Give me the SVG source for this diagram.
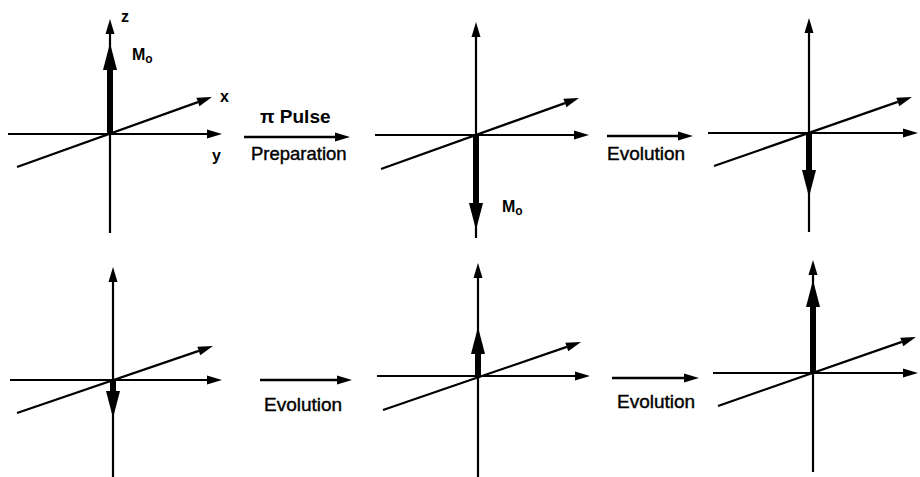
<svg xmlns="http://www.w3.org/2000/svg" width="920" height="477" viewBox="0 0 920 477">
<style>
.ax{stroke:#000;stroke-width:2.2;fill:none;marker-end:url(#ah)}
.mv{stroke:#000;stroke-width:6;fill:none;marker-end:url(#th)}
.cn{stroke:#000;stroke-width:2.4;fill:none;marker-end:url(#ah)}
.lb{font-family:"Liberation Sans",Arial,sans-serif;font-weight:bold;font-size:16px;fill:#000}
.tx{font-family:"Liberation Sans",Arial,sans-serif;font-size:18.5px;fill:#000;stroke:#000;stroke-width:0.4}
.sb{font-size:12px}
</style>
<defs>
<marker id="ah" markerUnits="userSpaceOnUse" markerWidth="16" markerHeight="10" refX="0" refY="4.5" orient="auto" overflow="visible"><path d="M0,0 L15,4.5 L0,9 Z" fill="#000"/></marker>
<marker id="th" markerUnits="userSpaceOnUse" markerWidth="28" markerHeight="15" refX="0" refY="7" orient="auto" overflow="visible"><path d="M0,0 L27,7 L0,14 Z" fill="#000"/></marker>
</defs>
<rect width="920" height="477" fill="#fff"/>
<g id="panel1">
<line class="ax" x1="110" y1="233" x2="110" y2="34"/>
<line class="ax" x1="8" y1="134" x2="207" y2="134"/>
<line class="ax" x1="17" y1="167" x2="197.9" y2="102.1"/>
<line class="mv" x1="110" y1="134" x2="110" y2="70"/>
<text class="lb" x="121" y="22">z</text>
<text class="lb" x="132" y="60">M<tspan class="sb" dy="3">o</tspan></text>
<text class="lb" x="220" y="102">x</text>
<text class="lb" x="212" y="161">y</text>
</g>
<g id="panel2">
<line class="ax" x1="476" y1="238" x2="476" y2="37"/>
<line class="ax" x1="375" y1="135" x2="574" y2="135"/>
<line class="ax" x1="381" y1="169" x2="564.9" y2="103.1"/>
<line class="mv" x1="476" y1="135" x2="476" y2="203"/>
<text class="lb" x="502" y="212">M<tspan class="sb" dy="3">o</tspan></text>
</g>
<g id="panel3">
<line class="ax" x1="809" y1="232" x2="809" y2="33"/>
<line class="ax" x1="708" y1="133" x2="903" y2="133"/>
<line class="ax" x1="714" y1="166" x2="897.8" y2="101.9"/>
<line class="mv" x1="809" y1="133" x2="809" y2="170"/>
</g>
<g id="panel4">
<line class="ax" x1="113" y1="477" x2="113" y2="282"/>
<line class="ax" x1="10" y1="380" x2="207" y2="380"/>
<line class="ax" x1="17" y1="413" x2="198.8" y2="350.9"/>
<line class="mv" x1="113" y1="380" x2="113" y2="391"/>
</g>
<g id="panel5">
<line class="ax" x1="478" y1="477" x2="478" y2="278"/>
<line class="ax" x1="377" y1="376" x2="575" y2="376"/>
<line class="ax" x1="383" y1="410" x2="566.8" y2="346.9"/>
<line class="mv" x1="478" y1="376" x2="478" y2="354"/>
</g>
<g id="panel6">
<line class="ax" x1="813" y1="472" x2="813" y2="275"/>
<line class="ax" x1="713" y1="373" x2="903" y2="373"/>
<line class="ax" x1="718" y1="406" x2="901.8" y2="341.9"/>
<line class="mv" x1="813" y1="373" x2="813" y2="307"/>
</g>
<g id="connectors">
<line class="cn" x1="244" y1="137" x2="335" y2="137"/>
<text class="lb" x="260" y="123" style="font-size:19px">π Pulse</text>
<text class="tx" x="251" y="160">Preparation</text>
<line class="cn" x1="607" y1="136" x2="678" y2="136"/>
<text class="tx" x="607" y="160" style="font-size:19px">Evolution</text>
<line class="cn" x1="260" y1="380" x2="337" y2="380"/>
<text class="tx" x="264" y="411" style="font-size:19px">Evolution</text>
<line class="cn" x1="612" y1="378" x2="684" y2="378"/>
<text class="tx" x="617" y="408" style="font-size:19px">Evolution</text>
</g>
</svg>
